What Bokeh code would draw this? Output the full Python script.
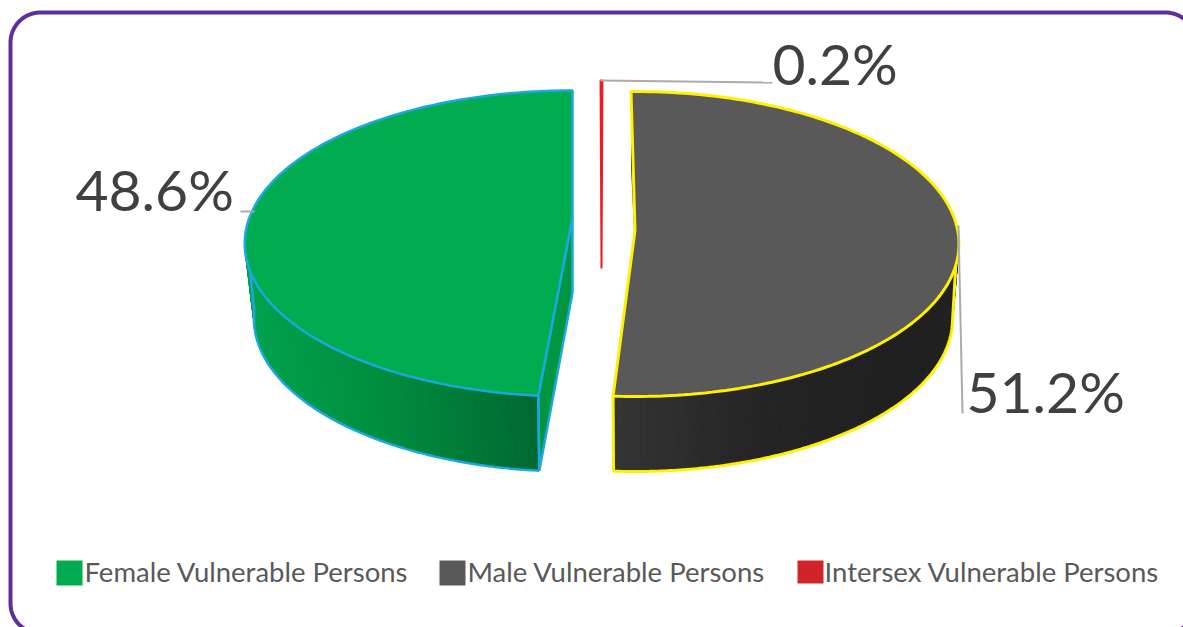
import math
from bokeh.plotting import figure
from bokeh.models import Range1d
from bokeh.core.properties import value
from bokeh.embed import file_html
from bokeh.resources import INLINE

# ---- data ----
categories = ["Female Vulnerable Persons", "Male Vulnerable Persons", "Intersex Vulnerable Persons"]
shares = [48.6, 51.2, 0.2]
legend_colors = ["#00AC4F", "#595959", "#D1232A"]

# ---- layout (page pixels) ----
DEPTH = 75
geo_female = dict(cx=572, cy=217, A=323, B=148.6, k=0.17, sx=0.972)
geo_male = dict(cx=634.5, cy=230, A=322.7, B=151.3, k=0.0885, sx=0.98)
geo_inter = dict(cx=601, cy=268, A=150, B=188, k=0.0, sx=1.0)
MALE_START = -0.77

p = figure(width=1183, height=627, x_range=Range1d(0, 1183), y_range=Range1d(627, 0),
           tools="", toolbar_location=None, output_backend="svg", min_border=0,
           x_axis_type=None, y_axis_type=None, outline_line_color=None,
           background_fill_color="white", border_fill_color="white")
p.grid.visible = False


def proj(g, t, lower=False):
    r = math.radians(t)
    X, Y = math.sin(r), -math.cos(r)
    w = 1 / (1 - g["k"] * Y)
    s = g["sx"] if lower else 1.0
    return (g["cx"] + g["A"] * X * w * s, g["cy"] + g["B"] * Y * w + (DEPTH if lower else 0))


def arc(g, t0, t1, lower=False, n=160):
    pts = [proj(g, t0 + (t1 - t0) * i / n, lower) for i in range(n + 1)]
    return [a for a, _ in pts], [b for _, b in pts]


def ramp(stops, x):
    if x <= stops[0][0]:
        return "#%02x%02x%02x" % stops[0][1]
    for (x0, c0), (x1, c1) in zip(stops, stops[1:]):
        if x <= x1:
            f = (x - x0) / (x1 - x0)
            rgb = [round(c0[i] + (c1[i] - c0[i]) * f) for i in range(3)]
            return "#%02x%02x%02x" % tuple(rgb)
    return "#%02x%02x%02x" % stops[-1][1]


def wall(g, t0, t1, stops, n=90):
    xs, ys, cs = [], [], []
    for i in range(n):
        a = t0 + (t1 - t0) * i / n
        b = t0 + (t1 - t0) * (i + 1) / n
        pa, pb, qa, qb = proj(g, a), proj(g, b), proj(g, a, True), proj(g, b, True)
        xs.append([pa[0], pb[0], qb[0], qa[0]])
        ys.append([pa[1], pb[1], qb[1], qa[1]])
        cs.append(ramp(stops, (qa[0] + qb[0]) / 2))
    p.patches(xs, ys, fill_color=cs, line_color=cs, line_width=1)


# ---- female slice ----
f_t0 = 360 - shares[0] * 3.6
f_t1 = 360
EDGE_F = "#1BA8DF"
wall(geo_female, f_t0, 275,
     [(250, (0, 163, 77)), (400, (0, 138, 62)), (540, (0, 104, 48))])
x, y = arc(geo_female, f_t0, 263, True)
p.line(x, y, line_color=EDGE_F, line_width=2.5)
a, b = proj(geo_female, 265), proj(geo_female, 263, True)
p.line([a[0], b[0]], [a[1], b[1]], line_color=EDGE_F, line_width=2.5)
# cut face
o, ap = proj(geo_female, f_t0), (geo_female["cx"], geo_female["cy"])
ol = proj(geo_female, f_t0, True)
p.patch([o[0], ap[0], ap[0], ol[0]], [o[1], ap[1], ap[1] + DEPTH, ol[1]],
        fill_color="#00963F", line_color=EDGE_F, line_width=2.5)
p.line([o[0], ol[0]], [o[1], ol[1]], line_color=EDGE_F, line_width=2.5)
# top
x, y = arc(geo_female, f_t0, f_t1)
p.patch(x + [ap[0]], y + [ap[1]], fill_color=legend_colors[0], line_color=EDGE_F, line_width=2.5)

# ---- male slice ----
m_t0 = MALE_START
m_t1 = m_t0 + shares[1] * 3.6
EDGE_M = "#FFF200"
wall(geo_male, 70, m_t1,
     [(610, (52, 52, 52)), (760, (36, 36, 36)), (880, (32, 32, 32))])
x, y = arc(geo_male, 97, m_t1, True)
p.line(x, y, line_color=EDGE_M, line_width=3)
a, b = proj(geo_male, 103), proj(geo_male, 97, True)
p.line([a[0], b[0]], [a[1], b[1]], line_color=EDGE_M, line_width=3)
o, ap = proj(geo_male, m_t1), (geo_male["cx"], geo_male["cy"])
ol = proj(geo_male, m_t1, True)
p.line([o[0], ol[0]], [o[1], ol[1]], line_color=EDGE_M, line_width=3)
# start face sliver
s = proj(geo_male, m_t0)
p.patch([s[0], ap[0], ap[0] - 1, s[0]], [s[1], ap[1], ap[1], s[1] + DEPTH],
        fill_color="#111111", line_color=None)
x, y = arc(geo_male, m_t0, m_t1)
p.patch(x + [ap[0]], y + [ap[1]], fill_color=legend_colors[1], line_color=EDGE_M, line_width=3)

# ---- intersex slice ----
span = shares[2] * 3.6
x, y = arc(geo_inter, -span / 2, span / 2, n=4)
p.patch(x + [geo_inter["cx"]], y + [geo_inter["cy"]], fill_color="#F01A22",
        line_color="#F01A22", line_width=2)

# ---- leader lines ----
LEAD = "#ABABAB"
p.line([600, 772], [80, 82], line_color=LEAD, line_width=2)
p.line([240, 254], [211, 211], line_color=LEAD, line_width=2)
p.line([958, 962], [225, 413], line_color=LEAD, line_width=2)

# ---- data labels ----
lab_x = [75, 966, 772]
lab_y = [188, 390, 62]
labels = [f"{v:.1f}%" for v in shares]
p.text(lab_x, lab_y, text=labels, text_font=value("Lato"), text_font_size=value("57px"),
       text_color="#404040", text_baseline="alphabetic", text_align="left")

# ---- legend ----
sw_x0 = [56, 439, 797]
sw_x1 = [82, 465, 823]
sw_y0 = [560, 560, 560]
sw_y1 = [585, 585, 583]
p.quad(left=sw_x0, right=sw_x1, top=sw_y0, bottom=sw_y1, fill_color=legend_colors, line_color=None)
leg_x = [84, 467, 824]
for lx, txt in zip(leg_x, categories):
    p.text([lx], [570.5], text=[txt], text_font=value("Lato"), text_font_size=value("27.5px"),
           text_color="#595959", text_baseline="alphabetic", text_align="left")

# ---- rounded frame ----
L, T, R_, Bm, r = 10, 12, 1195, 633, 30
fx, fy = [], []
for cx_, cy_, a0 in [(L + r, T + r, 180), (R_ - r, T + r, 270), (R_ - r, Bm - r, 0), (L + r, Bm - r, 90)]:
    for i in range(25):
        t = math.radians(a0 + 90 * i / 24)
        fx.append(cx_ + r * math.cos(t))
        fy.append(cy_ + r * math.sin(t))
fx.append(fx[0]); fy.append(fy[0])
p.line(fx, fy, line_color="#5C2F9B", line_width=4)

open("out.html", "w").write(file_html(p, INLINE))
